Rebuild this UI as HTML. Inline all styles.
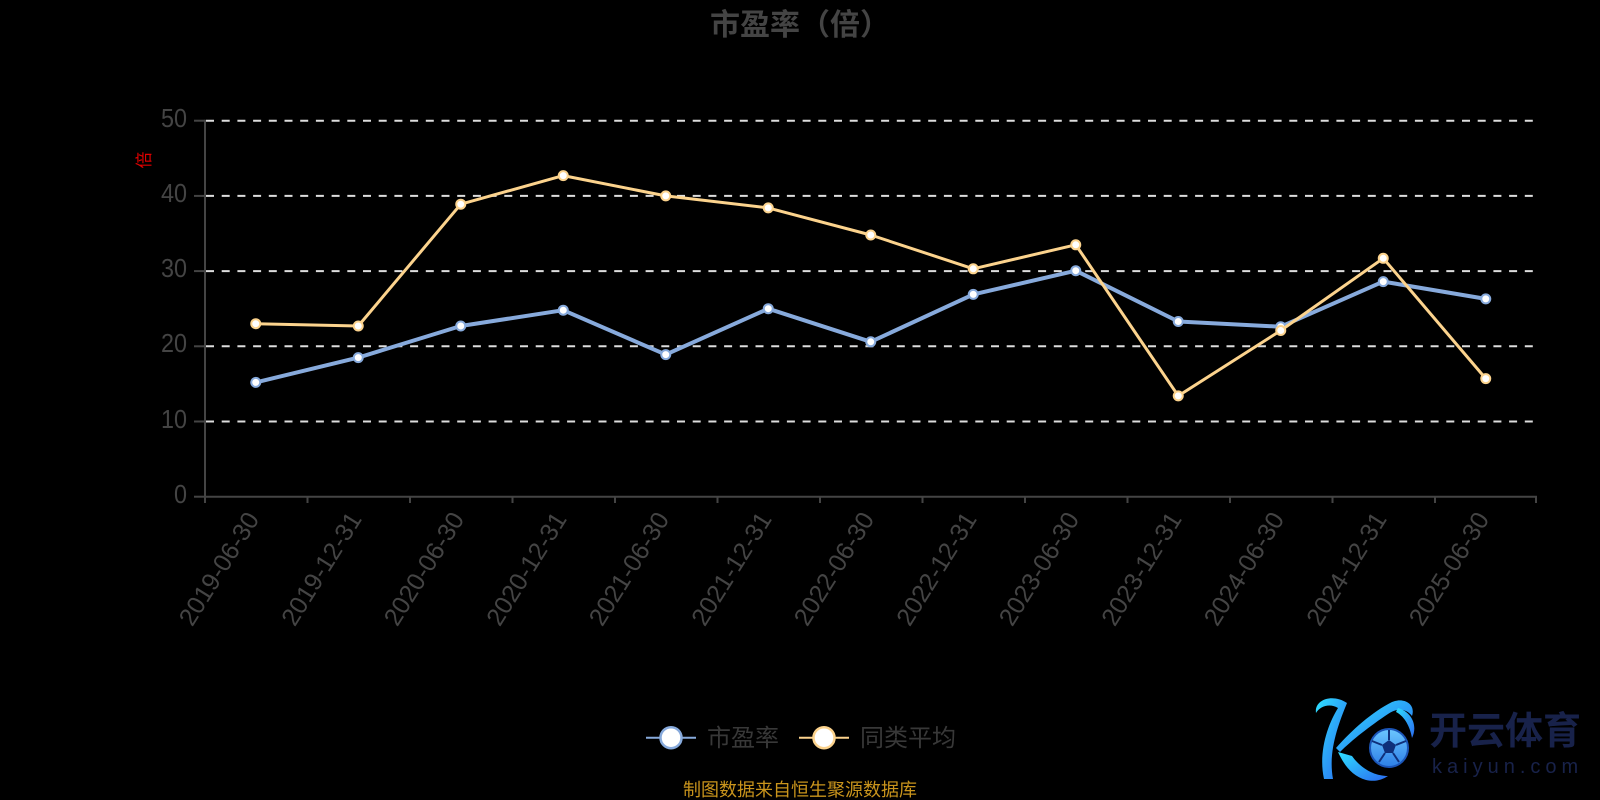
<!DOCTYPE html>
<html>
<head>
<meta charset="utf-8">
<style>
html,body{margin:0;padding:0;background:#000;}
svg{display:block;}
</style>
</head>
<body>
<svg width="1600" height="800" viewBox="0 0 1600 800" xmlns="http://www.w3.org/2000/svg">
<rect x="0" y="0" width="1600" height="800" fill="#000"/>
<defs>
<linearGradient id="kg" x1="0" y1="0" x2="1" y2="1">
<stop offset="0" stop-color="#2fe0ff"/>
<stop offset="1" stop-color="#2a6af0"/>
</linearGradient>
<linearGradient id="bg" x1="0" y1="0" x2="0" y2="1">
<stop offset="0" stop-color="#6cc6ff"/>
<stop offset="1" stop-color="#2d7fe6"/>
</linearGradient>
</defs>

<!-- Title -->
<text x="800" y="35" text-anchor="middle" font-family="'Liberation Sans','Noto Sans CJK SC',sans-serif" font-size="30" font-weight="bold" fill="#444">市盈率（倍）</text>

<!-- y axis name -->
<text transform="translate(150,160) rotate(-90)" text-anchor="middle" font-family="'Liberation Sans','Noto Sans CJK SC',sans-serif" font-size="17" fill="#e00000">倍</text>

<!-- grid lines -->
<g stroke="#dddddd" stroke-width="2" stroke-dasharray="8,7.7">
<line x1="206" y1="120.7" x2="1537" y2="120.7"/>
<line x1="206" y1="195.9" x2="1537" y2="195.9"/>
<line x1="206" y1="271.1" x2="1537" y2="271.1"/>
<line x1="206" y1="346.3" x2="1537" y2="346.3"/>
<line x1="206" y1="421.5" x2="1537" y2="421.5"/>
</g>

<!-- axes -->
<g stroke="#444" stroke-width="2" fill="none">
<line x1="205" y1="119.7" x2="205" y2="497.7"/>
<line x1="204" y1="496.7" x2="1537" y2="496.7"/>
<line x1="194" y1="120.7" x2="205" y2="120.7"/>
<line x1="194" y1="195.9" x2="205" y2="195.9"/>
<line x1="194" y1="271.1" x2="205" y2="271.1"/>
<line x1="194" y1="346.3" x2="205" y2="346.3"/>
<line x1="194" y1="421.5" x2="205" y2="421.5"/>
<line x1="194" y1="496.7" x2="205" y2="496.7"/>
<line x1="205" y1="496.7" x2="205" y2="503"/>
<line x1="307.5" y1="496.7" x2="307.5" y2="503"/>
<line x1="410" y1="496.7" x2="410" y2="503"/>
<line x1="512.5" y1="496.7" x2="512.5" y2="503"/>
<line x1="615" y1="496.7" x2="615" y2="503"/>
<line x1="717.5" y1="496.7" x2="717.5" y2="503"/>
<line x1="820" y1="496.7" x2="820" y2="503"/>
<line x1="922.5" y1="496.7" x2="922.5" y2="503"/>
<line x1="1025" y1="496.7" x2="1025" y2="503"/>
<line x1="1127.5" y1="496.7" x2="1127.5" y2="503"/>
<line x1="1230" y1="496.7" x2="1230" y2="503"/>
<line x1="1332.5" y1="496.7" x2="1332.5" y2="503"/>
<line x1="1435" y1="496.7" x2="1435" y2="503"/>
<line x1="1536" y1="496.7" x2="1536" y2="503"/>
</g>

<!-- y labels -->
<g font-family="'Liberation Sans',sans-serif" font-size="26" fill="#444" text-anchor="end">
<text x="187" y="127" textLength="26" lengthAdjust="spacingAndGlyphs">50</text>
<text x="187" y="202" textLength="26" lengthAdjust="spacingAndGlyphs">40</text>
<text x="187" y="277" textLength="26" lengthAdjust="spacingAndGlyphs">30</text>
<text x="187" y="352" textLength="26" lengthAdjust="spacingAndGlyphs">20</text>
<text x="187" y="428" textLength="26" lengthAdjust="spacingAndGlyphs">10</text>
<text x="187" y="503" textLength="13" lengthAdjust="spacingAndGlyphs">0</text>
</g>

<!-- x labels -->
<g font-family="'Liberation Sans',sans-serif" font-size="25" fill="#444" text-anchor="end">
<text transform="translate(260,519) rotate(-58)">2019-06-30</text>
<text transform="translate(362.5,519) rotate(-58)">2019-12-31</text>
<text transform="translate(465,519) rotate(-58)">2020-06-30</text>
<text transform="translate(567.5,519) rotate(-58)">2020-12-31</text>
<text transform="translate(670,519) rotate(-58)">2021-06-30</text>
<text transform="translate(772.5,519) rotate(-58)">2021-12-31</text>
<text transform="translate(875,519) rotate(-58)">2022-06-30</text>
<text transform="translate(977.5,519) rotate(-58)">2022-12-31</text>
<text transform="translate(1080,519) rotate(-58)">2023-06-30</text>
<text transform="translate(1182.5,519) rotate(-58)">2023-12-31</text>
<text transform="translate(1285,519) rotate(-58)">2024-06-30</text>
<text transform="translate(1387.5,519) rotate(-58)">2024-12-31</text>
<text transform="translate(1490,519) rotate(-58)">2025-06-30</text>
</g>

<!-- blue series -->
<polyline fill="none" stroke="#87aadc" stroke-width="4" stroke-linejoin="round"
points="255.75,382.4 358.25,357.6 460.75,326.0 563.25,310.2 665.75,354.6 768.25,308.7 870.75,341.8 973.25,294.4 1075.75,270.7 1178.25,321.5 1280.75,326.7 1383.25,281.6 1485.75,298.9"/>
<g fill="#fff" stroke="#87aadc" stroke-width="2">
<circle cx="255.75" cy="382.4" r="4.5"/>
<circle cx="358.25" cy="357.6" r="4.5"/>
<circle cx="460.75" cy="326.0" r="4.5"/>
<circle cx="563.25" cy="310.2" r="4.5"/>
<circle cx="665.75" cy="354.6" r="4.5"/>
<circle cx="768.25" cy="308.7" r="4.5"/>
<circle cx="870.75" cy="341.8" r="4.5"/>
<circle cx="973.25" cy="294.4" r="4.5"/>
<circle cx="1075.75" cy="270.7" r="4.5"/>
<circle cx="1178.25" cy="321.5" r="4.5"/>
<circle cx="1280.75" cy="326.7" r="4.5"/>
<circle cx="1383.25" cy="281.6" r="4.5"/>
<circle cx="1485.75" cy="298.9" r="4.5"/>
</g>

<!-- yellow series -->
<polyline fill="none" stroke="#fcd38d" stroke-width="3" stroke-linejoin="round"
points="255.75,323.7 358.25,326.0 460.75,204.2 563.25,175.6 665.75,195.9 768.25,207.9 870.75,235.0 973.25,268.8 1075.75,244.8 1178.25,395.9 1280.75,330.5 1383.25,258.3 1485.75,378.6"/>
<g fill="#fff" stroke="#fcd38d" stroke-width="2">
<circle cx="255.75" cy="323.7" r="4.5"/>
<circle cx="358.25" cy="326.0" r="4.5"/>
<circle cx="460.75" cy="204.2" r="4.5"/>
<circle cx="563.25" cy="175.6" r="4.5"/>
<circle cx="665.75" cy="195.9" r="4.5"/>
<circle cx="768.25" cy="207.9" r="4.5"/>
<circle cx="870.75" cy="235.0" r="4.5"/>
<circle cx="973.25" cy="268.8" r="4.5"/>
<circle cx="1075.75" cy="244.8" r="4.5"/>
<circle cx="1178.25" cy="395.9" r="4.5"/>
<circle cx="1280.75" cy="330.5" r="4.5"/>
<circle cx="1383.25" cy="258.3" r="4.5"/>
<circle cx="1485.75" cy="378.6" r="4.5"/>
</g>

<!-- legend -->
<line x1="646" y1="737.7" x2="696" y2="737.7" stroke="#87aadc" stroke-width="2"/>
<circle cx="671" cy="737.7" r="10.5" fill="#fff" stroke="#87aadc" stroke-width="2.5"/>
<text x="707" y="746" font-family="'Liberation Sans','Noto Sans CJK SC',sans-serif" font-size="24" fill="#383838">市盈率</text>
<line x1="799" y1="737.7" x2="849" y2="737.7" stroke="#fcd38d" stroke-width="2"/>
<circle cx="824" cy="737.7" r="10.5" fill="#fff" stroke="#fcd38d" stroke-width="2.5"/>
<text x="860" y="746" font-family="'Liberation Sans','Noto Sans CJK SC',sans-serif" font-size="24" fill="#383838">同类平均</text>

<!-- footer -->
<text x="800" y="796" text-anchor="middle" font-family="'Liberation Sans','Noto Sans CJK SC',sans-serif" font-size="18" fill="#c9941c">制图数据来自恒生聚源数据库</text>

<!-- logo -->
<g>
<path d="M1316,713 C1314,700 1332,693 1347,703 C1338,725 1328,752 1333,779 L1324,779 C1318,752 1328,724 1338,708 C1330,703 1320,706 1316,713 Z" fill="url(#kg)"/>
<path d="M1336,748 C1352,730 1372,712 1392,702 C1404,697 1416,704 1412,716 C1406,708 1396,708 1388,714 C1370,726 1352,740 1340,752 Z" fill="url(#kg)"/>
<path d="M1338,752 C1344,765 1352,776 1366,780 C1375,782 1382,780 1388,776 C1376,776 1362,770 1352,756 Z" fill="url(#kg)"/>
<path d="M1398,708 C1412,712 1418,726 1412,738 C1410,726 1404,716 1396,712 Z" fill="url(#kg)"/>
<circle cx="1389" cy="748" r="19" fill="url(#bg)" stroke="#1b55b8" stroke-width="2"/>
<polygon points="1389,740 1396,745 1393,753 1385,753 1382,745" fill="#0f2f7a"/>
<path d="M1389,730 L1389,740 M1396,745 L1406,741 M1393,753 L1399,762 M1385,753 L1379,762 M1382,745 L1372,741" stroke="#0f2f7a" stroke-width="2"/>
<text x="1429" y="744" font-family="'Liberation Sans','Noto Sans CJK SC',sans-serif" font-size="38" font-weight="bold" fill="#18224a">开云体育</text>
<text x="1432" y="773" font-family="'Liberation Sans',sans-serif" font-size="20" letter-spacing="5" fill="#18224a">kaiyun.com</text>
</g>
</svg>
</body>
</html>
